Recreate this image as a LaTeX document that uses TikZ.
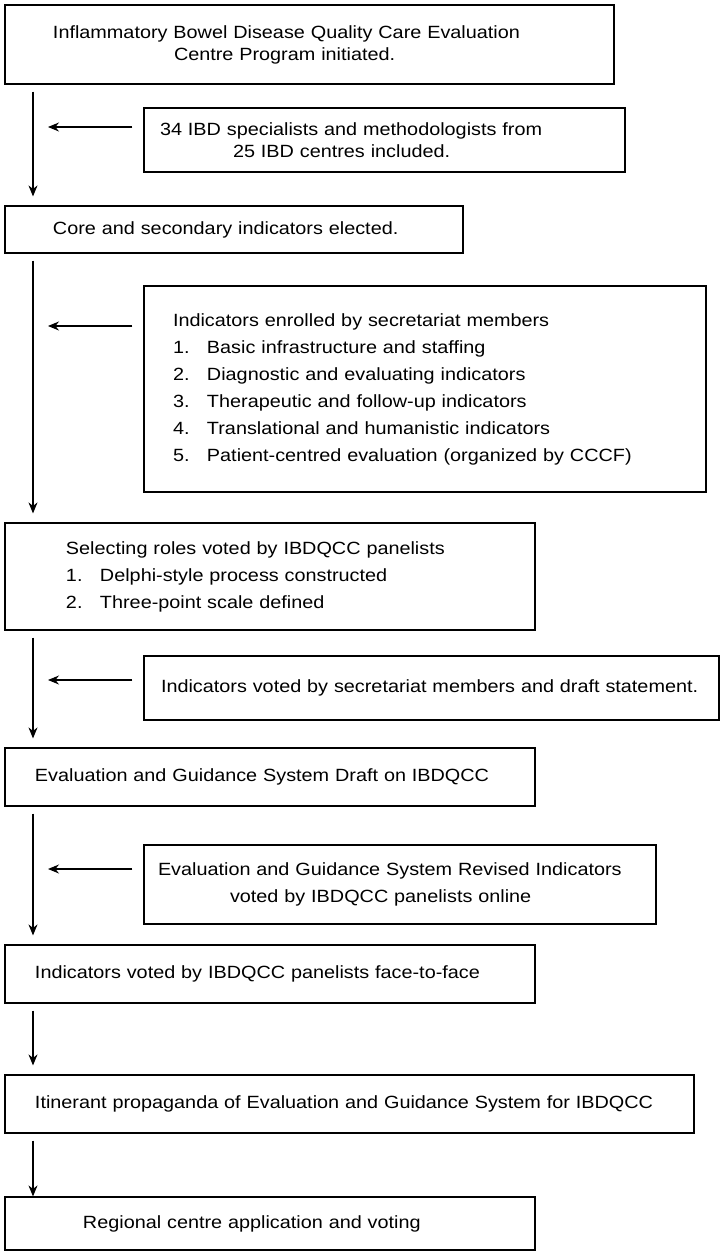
\documentclass[tikz,border=0pt]{standalone}
\usepackage{fontspec}
\setmainfont{Liberation Sans}[FakeStretch=1.12]
\usetikzlibrary{arrows.meta}

\begin{document}
\begin{tikzpicture}[x=1pt, y=-1pt, >={Stealth[length=11pt,width=9pt]},
  font=\fontsize{17.7}{22}\selectfont,
  main/.style = {draw, rectangle, line width=1.2pt, inner xsep=0pt, align=left},
  list/.style = {main, font=\fontsize{17.7}{27}\selectfont},
  link/.style = {->, line width=1.1pt, shorten <=7pt, shorten >=9pt}]
  \useasboundingbox (0,0) rectangle (722,1254);
  \coordinate (spine) at (33,0);
  \node[main, minimum width=609, text width=609pt, minimum height=79] at (309.5,44.5) (1) {\hspace*{48pt}Inflammatory Bowel Disease Quality Care Evaluation\\\hspace*{169pt}Centre Program initiated.};
  \node[main, minimum width=481, text width=481pt, minimum height=64] at (384.5,140) (a) {\hspace*{16pt}34 IBD specialists and methodologists from\\\hspace*{89pt}25 IBD centres included.};
  \node[main, minimum width=458, text width=458pt, minimum height=47] at (234,229.5) (2) {\hspace*{48pt}Core and secondary indicators elected.};
  \node[list, minimum width=562, text width=562pt, minimum height=206] at (425,389) (b) {\hspace*{29pt}Indicators enrolled by secretariat members\\
    \hspace*{29pt}\makebox[34pt][l]{1.}Basic infrastructure and staffing\\
    \hspace*{29pt}\makebox[34pt][l]{2.}Diagnostic and evaluating indicators\\
    \hspace*{29pt}\makebox[34pt][l]{3.}Therapeutic and follow-up indicators\\
    \hspace*{29pt}\makebox[34pt][l]{4.}Translational and humanistic indicators\\
    \hspace*{29pt}\makebox[34pt][l]{5.}Patient-centred evaluation (organized by CCCF)};
  \node[list, minimum width=530, text width=530pt, minimum height=107] at (270,576.5) (3) {\hspace*{61pt}Selecting roles voted by IBDQCC panelists\\
    \hspace*{61pt}\makebox[34pt][l]{1.}Delphi-style process constructed\\
    \hspace*{61pt}\makebox[34pt][l]{2.}Three-point scale defined};
  \node[main, minimum width=575, text width=575pt, minimum height=64] at (431.5,688) (c) {\hspace*{17pt}Indicators voted by secretariat members and draft statement.};
  \node[main, minimum width=530, text width=530pt, minimum height=58] at (270,777) (4) {\hspace*{30pt}Evaluation and Guidance System Draft on IBDQCC};
  \node[list, minimum width=512, text width=512pt, minimum height=79] at (400,884.5) (d) {\hspace*{14pt}Evaluation and Guidance System Revised Indicators\\\hspace*{86pt}voted by IBDQCC panelists online};
  \node[main, minimum width=530, text width=530pt, minimum height=58] at (270,974) (5) {\hspace*{30pt}Indicators voted by IBDQCC panelists face-to-face};
  \node[main, minimum width=689, text width=689pt, minimum height=58] at (349.5,1104) (6) {\hspace*{30pt}Itinerant propaganda of Evaluation and Guidance System for IBDQCC};
  \node[main, minimum width=530, text width=530pt, minimum height=53] at (270,1223.5) (7) {\hspace*{78pt}Regional centre application and voting};
  % main chain
  \draw[link] (1.south -| spine) -- (2.north -| spine);
  \draw[link] (2.south -| spine) -- (3.north -| spine);
  \draw[link] (3.south -| spine) -- (4.north -| spine);
  \draw[link] (4.south -| spine) -- (5.north -| spine);
  \draw[link] (5.south -| spine) -- (6.north -| spine);
  \draw[link, shorten >=0pt] (6.south -| spine) -- (7.north -| spine);
  % side inputs
  \draw[link, shorten <=11pt, shorten >=15pt] ([yshift=13pt]a.west) -- ([yshift=13pt]a.west -| spine);
  \draw[link, shorten <=11pt, shorten >=15pt] ([yshift=63pt]b.west) -- ([yshift=63pt]b.west -| spine);
  \draw[link, shorten <=11pt, shorten >=15pt] ([yshift=8pt]c.west) -- ([yshift=8pt]c.west -| spine);
  \draw[link, shorten <=11pt, shorten >=15pt] ([yshift=15.5pt]d.west) -- ([yshift=15.5pt]d.west -| spine);
\end{tikzpicture}
\end{document}
